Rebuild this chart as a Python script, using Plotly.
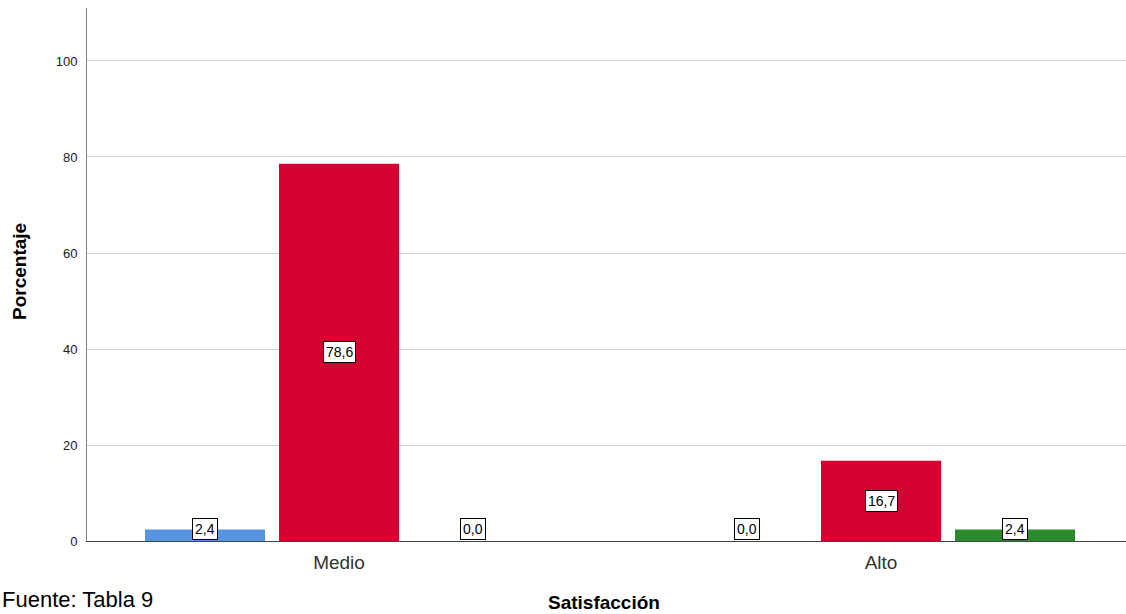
import plotly.graph_objects as go

# Satisfacción groups and percentage values per series
categories = ["Medio", "Alto"]
series_names = ["Bajo", "Medio", "Alto"]
series_values = [
    [2.4, 0.0],    # Bajo
    [78.6, 16.7],  # Medio
    [0.0, 2.4],    # Alto
]
series_colors = ["#5694E1", "#D50032", "#2B8A2B"]
y_ticks = [0, 20, 40, 60, 80, 100]

FONT = "Liberation Sans, Arial, sans-serif"

n_series = len(series_names)
group_width = 0.7417
slot = group_width / n_series
x_idx = list(range(len(categories)))

fig = go.Figure()
for s, (name, vals, col) in enumerate(zip(series_names, series_values, series_colors)):
    fig.add_trace(go.Bar(
        name=name,
        x=x_idx,
        y=vals,
        marker=dict(color=col, line=dict(width=0)),
        showlegend=False,
    ))

fig.update_layout(barmode="group", bargap=1 - group_width, bargroupgap=0.1045)

# Value labels in white boxes, centred in each bar (kept above the axis)
for s, vals in enumerate(series_values):
    for i, v in enumerate(vals):
        xpos = x_idx[i] + (s - (n_series - 1) / 2) * slot
        fig.add_annotation(
            x=xpos, y=max(v / 2, 2.5), xref="x", yref="y",
            text=f"{v:.1f}".replace(".", ","),
            showarrow=False,
            font=dict(family=FONT, size=14, color="#000000"),
            bgcolor="#FFFFFF", bordercolor="#000000", borderwidth=1, borderpad=2,
        )

# Axis titles
fig.add_annotation(
    x=0, y=0.5047, xref="paper", yref="paper", xshift=-67,
    xanchor="center", yanchor="middle", textangle=-90,
    text="<b>Porcentaje</b>", showarrow=False,
    font=dict(family=FONT, size=19, color="#000000"),
)
fig.add_annotation(
    x=0.4976, y=-0.1163, xref="paper", yref="paper",
    xanchor="center", yanchor="middle",
    text="<b>Satisfacción</b>", showarrow=False,
    font=dict(family=FONT, size=19, color="#000000"),
)

# Source note at the bottom-left edge
fig.add_annotation(
    x=0, y=-0.137, xref="paper", yref="paper",
    xanchor="left", yanchor="bottom",
    xshift=-87,
    text="Fuente: Tabla 9",
    showarrow=False,
    font=dict(family=FONT, size=22, color="#000000"),
)

fig.update_layout(
    width=1126, height=614,
    margin=dict(l=87, r=0, t=8, b=73),
    paper_bgcolor="#FFFFFF", plot_bgcolor="#FFFFFF",
    font=dict(family=FONT, color="#000000"),
    xaxis=dict(
        range=[-0.465, 1.452],
        tickmode="array", tickvals=x_idx, ticktext=categories,
        tickfont=dict(family=FONT, size=19, color="#333333"),
        showgrid=False, zeroline=False,
        showline=True, linecolor="#444444", linewidth=1,
        ticks="", ticklen=0, ticklabelstandoff=4,
    ),
    yaxis=dict(
        range=[0, 111.04],
        tickmode="array", tickvals=y_ticks,
        tickfont=dict(family=FONT, size=13, color="#222222"),
        showgrid=True, gridcolor="#D0D0D0", gridwidth=1,
        zeroline=False,
        showline=True, linecolor="#808080", linewidth=1,
        ticks="", ticklen=0, ticklabelstandoff=6,
    ),
)

fig.write_html("out.html")
